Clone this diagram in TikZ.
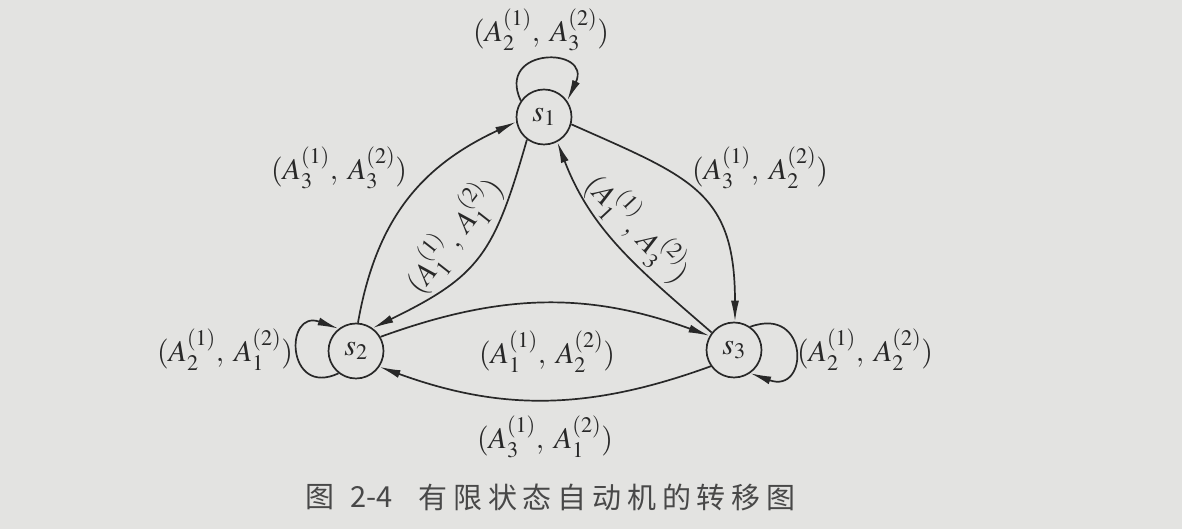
\documentclass[tikz,border=0pt]{standalone}
\usepackage{mathptmx}
\usepackage{fontspec}
\setmainfont{Liberation Serif}
\newfontfamily\cjk{Noto Sans CJK SC}
\usetikzlibrary{arrows.meta}
\definecolor{bg}{RGB}{227,227,225}
\definecolor{ink}{RGB}{40,40,40}
\tikzset{
  state/.style={circle,draw=ink,line width=1.7pt,minimum size=55pt,inner sep=0pt,
    font=\fontsize{30}{34}\selectfont,text=ink},
  tr/.style={draw=ink,line width=1.7pt,-{Latex[length=21pt,width=8pt]}},
  lab/.style={font=\fontsize{30}{36}\selectfont,text=ink,inner sep=0pt},
  captext/.style={font=\cjk\fontsize{29}{34}\selectfont,text=ink!85,inner sep=0pt},
}
\newcommand{\pr}[4]{(A_{#1}^{(1)},\;A_{#3}^{(2)})}
\begin{document}
\begin{tikzpicture}[x=1pt,y=1pt]
\fill[bg] (0,0) rectangle (1182,529);
\useasboundingbox (0,0) rectangle (1182,529);
% states
\node[state] (s1) at (544,412) {$s_1$};
\node[state] (s2) at (356,178) {$s_2$};
\node[state] (s3) at (734,179) {$s_3$};
% self loops
\draw[tr] (s1.145) .. controls +(115:60) and +(65:60) .. (s1.35);
\draw[tr] (s2.232) .. controls +(205:58) and +(160:58) .. (s2.128);
\draw[tr] (s3.55) .. controls +(20:63) and +(-20:63) .. (s3.-55);
% transitions
\draw[tr] (s2.86) to[out=80,in=205,looseness=1.05] (s1.190);
\draw[tr] (s1.233) to[out=254,in=26,looseness=1.25] (s2.54);
\draw[tr] (s3.142) to[out=139,in=291] (s1.298);
\draw[tr] (s1.345) to[out=-24,in=90,looseness=1.3] (s3.88);
\draw[tr] (s2.30) to[out=20,in=160] (s3.150);
\draw[tr] (s3.215) to[out=200,in=-20] (s2.-34);
% labels
\node[lab] (l11) at (541,499) {$\pr{2}{}{3}{}$};
\node[lab] (l21) at (339,361) {$\pr{3}{}{3}{}$};
\node[lab] (l13) at (760,361) {$\pr{3}{}{2}{}$};
\node[lab,rotate=52] (l12) at (453,294) {$\pr{1}{}{1}{}$};
\node[lab,rotate=-47] (l31) at (638,301) {$\pr{1}{}{3}{}$};
\node[lab] (l22) at (225,179) {$\pr{2}{}{1}{}$};
\node[lab] (l33) at (865,179) {$\pr{2}{}{2}{}$};
\node[lab] (l23) at (547,177) {$\pr{1}{}{2}{}$};
\node[lab] (l32) at (545,92) {$\pr{3}{}{1}{}$};
% caption
\node[captext] (capn) at (349,32) {图\hspace{16pt}2-4};
\node[captext] (capt) at (607,32) {\addfontfeature{LetterSpace=20}有限状态自动机的转移图};
\end{tikzpicture}
\end{document}
